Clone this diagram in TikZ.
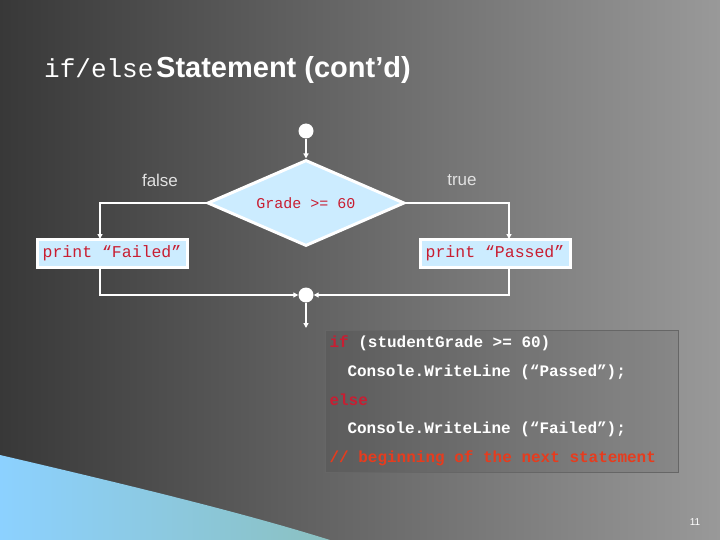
\documentclass[tikz,border=0pt]{standalone}
\usepackage{fontspec}
\setmainfont{Liberation Sans}
\setmonofont{Liberation Mono}
\usetikzlibrary{shapes.geometric,arrows.meta}
\definecolor{boxfill}{RGB}{204,236,255}
\definecolor{codered}{RGB}{200,30,50}
\definecolor{comment}{RGB}{230,60,30}
\definecolor{labelgray}{RGB}{225,225,225}

\begin{document}
\begin{tikzpicture}[x=1pt,y=-1pt,>={Triangle[length=5pt,width=5pt]},
  flow/.style={draw=white,line width=2pt},
  arrowline/.style={flow,->},
  dot/.style={circle,fill=white,minimum size=15pt,inner sep=0pt},
  action/.style={draw=white,line width=3pt,fill=boxfill,text=codered,
    font=\ttfamily\fontsize{16.5}{16.5}\selectfont,minimum width=150pt,minimum height=28pt},
  decision/.style={diamond,draw=white,line width=3pt,fill=boxfill,text=codered,
    font=\ttfamily\fontsize{15}{15}\selectfont,aspect=2.3,inner sep=1pt,
    minimum width=197pt,minimum height=86pt},
  annot/.style={text=labelgray,font=\fontsize{17}{17}\selectfont},
  codeline/.style={anchor=west,text=white,font=\ttfamily\bfseries\fontsize{16}{16}\selectfont}]

  % background
  \shade[left color=black!78,right color=black!40] (0,0) rectangle (720,540);
  \useasboundingbox (0,0) rectangle (720,540);
  \shade[left color=cyan!60!blue!45!white,right color=cyan!30!gray!70] (0,455) .. controls (150,490) and (250,515) .. (330,540) -- (0,540) -- cycle;

  % title
  \node[anchor=base west,text=white,inner sep=0pt] (title) at (44,78)
    {{\ttfamily\fontsize{26}{26}\selectfont if/else} {\bfseries\fontsize{29}{29}\selectfont Statement (cont'd)}};

  % flowchart nodes
  \node[dot] (start) at (306,131) {};
  \node[decision] (grade) at (306,203) {Grade >= 60};
  \node[action] (failed) at (112,253) {print “Failed”};
  \node[action] (passed) at (495,253) {print “Passed”};
  \node[dot] (merge) at (306,295) {};
  \coordinate (out) at (306,328);
  \coordinate (fin) at (100,239);
  \coordinate (fout) at (100,267);
  \coordinate (pin) at (509,239);
  \coordinate (pout) at (509,267);
  \node[annot] (fl) at (160,180) {false};
  \node[annot] (tl) at (462,180) {true};

  % connectors
  \draw[arrowline] (start) -- (grade.north);
  \draw[arrowline] (grade.west) -| (fin);
  \draw[arrowline] (grade.east) -| (pin);
  \draw[arrowline] (fout) |- (merge);
  \draw[arrowline] (pout) |- (merge);
  \draw[arrowline] (merge) -- (out);

  % code box
  \node[draw=black!60,fill=black,fill opacity=0.08,draw opacity=1,
    minimum width=353pt,minimum height=142pt,anchor=north west] (code) at (325,330) {};
  \node[codeline] (c1) at (326,343) {\textcolor{codered}{if} (studentGrade >= 60)};
  \node[codeline] (c2) at (344,372) {Console.WriteLine (“Passed”);};
  \node[codeline] (c3) at (326,400) {\textcolor{codered}{else}};
  \node[codeline] (c4) at (344,429) {Console.WriteLine (“Failed”);};
  \node[codeline,text=comment] (c5) at (326,458) {// beginning of the next statement};

  \node[text=white,font=\fontsize{10}{10}\selectfont] (page) at (695,522) {11};
\end{tikzpicture}
\end{document}
